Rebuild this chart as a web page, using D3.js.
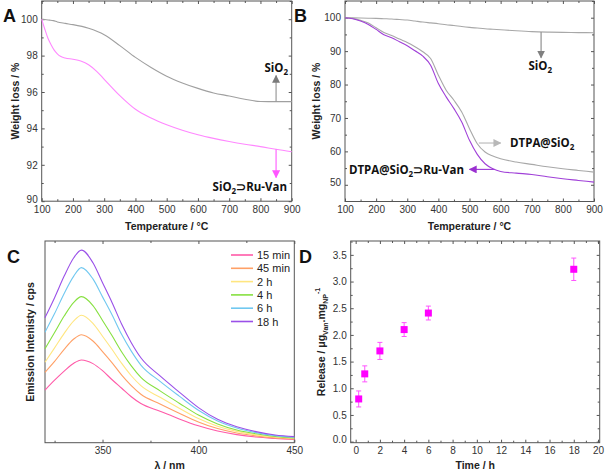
<!DOCTYPE html>
<html><head><meta charset="utf-8">
<script src="https://cdn.jsdelivr.net/npm/d3@7"></script>
<style>
body{margin:0;background:#fff;}
svg{display:block;}
</style></head>
<body>
<svg id="chart" width="606" height="472"></svg>
<script>
// ---------- DATA ----------
// Panel A (TGA)
const tempA = [100,110,125,137,150,175,200,250,300,350,400,450,500,550,600,650,700,750,800,850,900];
const tgaA_SiO2 = [100,99.98,99.95,99.92,99.85,99.77,99.7,99.5,99.15,98.55,97.9,97.35,96.87,96.5,96.2,95.95,95.78,95.6,95.48,95.47,95.47];
const tempA_Ru = [100,105,110,120,130,140,150,160,175,200,225,250,275,300,350,400,450,500,550,600,650,700,750,800,850,900];
const tgaA_RuVan = [100,99.72,99.45,98.95,98.6,98.3,98.1,97.96,97.87,97.8,97.7,97.5,97.15,96.7,95.8,95.05,94.57,94.2,93.9,93.65,93.45,93.28,93.13,93.0,92.85,92.72];
// Panel B (TGA)
const tempB = [100,125,150,175,200,225,250,275,300,325,350,375,400,425,450,475,500,525,550,575,600,650,700,750,800,850,900];
const tgaB_SiO2 = [100,99.95,99.9,99.85,99.8,99.7,99.6,99.45,99.3,99.0,98.7,98.45,98.2,97.9,97.65,97.35,97.1,96.9,96.7,96.55,96.4,96.1,95.85,95.7,95.6,95.55,95.5];
const tgaB_DTPA = [100,99.8,99.2,98.4,97.0,95.6,94.7,93.6,92.6,91.3,89.8,87.8,82.8,78.3,75.3,71.8,66.8,62.3,59.8,58.6,57.8,56.8,56.1,55.4,54.8,54.3,53.8];
const tgaB_DTPARu = [100,99.7,99.0,98.0,96.5,94.9,94.0,92.8,91.6,90.1,88.5,85.8,80.3,76.3,72.8,68.8,63.3,59.1,56.3,54.8,54.0,53.5,53.1,52.4,51.8,51.3,50.8];
// Panel C (emission spectra, arbitrary units)
const lambda = [320,325,330,335,339,345,350,355,360,365,370,380,390,400,410,420,430,440,450];
const em15min = [26.1,31.0,35.5,39.4,41.0,39.2,35.7,31.2,27.0,22.8,19.4,15.6,11.8,8.4,5.8,4.0,2.8,2.1,1.6];
const em45min = [34.9,40.3,46.3,51.4,53.5,50.4,45.2,39.6,33.5,28.3,24.0,19.2,14.6,10.3,7.0,4.8,3.4,2.4,1.9];
const em2h = [39.9,47.0,54.2,60.4,63.2,59.2,52.8,46.2,39.3,33.2,28.3,22.5,17.1,12.0,8.2,5.6,3.9,2.8,2.2];
const em4h = [46.6,54.6,62.8,69.6,72.4,68.0,60.6,53.0,45.0,38.1,32.4,25.7,19.6,13.7,9.3,6.3,4.4,3.1,2.4];
const em6h = [54.8,64.0,74.0,82.6,86.8,81.2,72.3,63.3,53.6,45.4,38.5,30.4,23.1,16.1,10.8,7.3,5.0,3.5,2.7];
const em18h = [62.0,71.9,82.6,91.7,95.5,89.2,79.3,69.4,58.7,49.6,42.1,33.1,25.1,17.4,11.6,7.9,5.5,3.8,3.0];
const emLabels = ["15 min","45 min","2 h","4 h","6 h","18 h"];
// Panel D (release)
const timeH = [0.25,0.75,2,4,6,18];
const release = [0.80,1.27,1.70,2.10,2.41,3.23];
const releaseErr = [0.15,0.15,0.16,0.13,0.13,0.21];

// ---------- DRAWING ----------
const svg = d3.select("#chart");
svg.append("rect").attr("width",606).attr("height",472).attr("fill","#fff");
const FONT = "'Liberation Sans', Arial, sans-serif";
const AFONT = "'Open Sans', 'Liberation Sans', sans-serif";

svg.append("defs").selectAll("marker")
  .data([["gA","#7a7a7a"],["pA","#ff55ff"],["gB","#808080"],["lB","#b8b8b8"],["vB","#9a30d0"]])
  .join("marker")
  .attr("id",d=>"ar_"+d[0]).attr("viewBox","0 0 10 10").attr("refX",9).attr("refY",5)
  .attr("markerWidth",8).attr("markerHeight",8).attr("markerUnits","userSpaceOnUse")
  .attr("orient","auto")
  .append("path").attr("d","M0,0 L10,5 L0,10 z").attr("fill",d=>d[1]);

function range(a,b,s){const r=[];for(let v=a;v<=b+1e-9;v+=s)r.push(+v.toFixed(4));return r;}

function panel(o){
  const g = svg.append("g");
  const x = d3.scaleLinear().domain(o.xd).range([o.l,o.r]);
  const y = d3.scaleLinear().domain(o.yd).range([o.b,o.t]);
  const addAxis=(axis,tr,vals,size,fmt)=>{
    const a = axis.tickValues(vals).tickSizeInner(-size).tickSizeOuter(0).tickPadding(4);
    if(fmt) a.tickFormat(fmt); else a.tickFormat("");
    const ag = g.append("g").attr("transform",tr).call(a);
    ag.select(".domain").remove();
    ag.selectAll("line").attr("stroke","#555");
    ag.selectAll("text").attr("fill","#333").style("font-family",FONT).style("font-size","10px");
    return ag;
  };
  // x axes
  addAxis(d3.axisBottom(x),`translate(0,${o.b})`,o.xMinor,2,null);
  addAxis(d3.axisBottom(x),`translate(0,${o.b})`,o.xMajor,3,o.xFmt||d3.format("d"))
    .selectAll("text").attr("dy","0.78em");
  addAxis(d3.axisTop(x),`translate(0,${o.t})`,o.xMinor,2,null);
  addAxis(d3.axisTop(x),`translate(0,${o.t})`,o.xMajor,3,null);
  if(o.yMajor){
    addAxis(d3.axisLeft(y),`translate(${o.l},0)`,o.yMinor,2,null);
    const yl = addAxis(d3.axisLeft(y),`translate(${o.l},0)`,o.yMajor,3,o.yFmt||d3.format("d"));
    // lift the lowest label slightly so it clears the first x label
    yl.selectAll("text").filter(d=>d===o.yMajor[0]).attr("dy","0.1em");
    addAxis(d3.axisRight(y),`translate(${o.r},0)`,o.yMinor,2,null);
    addAxis(d3.axisRight(y),`translate(${o.r},0)`,o.yMajor,3,null);
  }
  g.append("rect").attr("x",o.l).attr("y",o.t).attr("width",o.r-o.l).attr("height",o.b-o.t)
    .attr("fill","none").attr("stroke","#555").attr("stroke-width",1);
  // titles
  g.append("text").attr("x",(o.l+o.r)/2).attr("y",o.xtY).attr("text-anchor","middle")
    .style("font-family",FONT).style("font-weight","bold").style("font-size","10.5px").attr("fill","#222")
    .text(o.xt);
  const yt = g.append("text").attr("transform",`translate(${o.ytX},${o.ytC}) rotate(-90)`).attr("text-anchor","middle")
    .style("font-family",FONT).style("font-weight","bold").style("font-size","10.5px").attr("fill","#222");
  if(typeof o.yt==="function") o.yt(yt); else yt.text(o.yt);
  g.append("text").attr("x",o.pl[0]).attr("y",o.pl[1]).text(o.letter)
    .style("font-family",FONT).style("font-weight","bold").style("font-size","18px").attr("fill","#111");
  return {g,x,y};
}

function drawLine(p,xs,ys,color,w){
  const line = d3.line().x((d,i)=>p.x(xs[i])).y(d=>p.y(d)).curve(d3.curveMonotoneX);
  p.g.append("path").attr("d",line(ys)).attr("fill","none").attr("stroke",color).attr("stroke-width",w||1.1);
}
function sio2(t,pre,post,size){
  t.append("tspan").text(pre+"SiO");
  t.append("tspan").text("2").attr("dy",3).style("font-size",(size*0.7)+"px");
  t.append("tspan").text(post).attr("dy",-3);
}
function annot(x,y,pre,post,anchor){
  const t = svg.append("text").attr("x",x).attr("y",y).attr("text-anchor",anchor||"start")
    .style("font-family",AFONT).style("font-weight","bold").style("font-size","11.5px").attr("fill","#111");
  sio2(t,pre,post,11.5);
  return t;
}
function arrow(p,x1,y1,x2,y2,color,id){
  p.g.append("line").attr("x1",x1).attr("y1",y1).attr("x2",x2).attr("y2",y2)
    .attr("stroke",color).attr("stroke-width",1.2).attr("marker-end",`url(#ar_${id})`);
}

// Panel A
const pA = panel({l:41.7,r:291.7,t:1,b:201.2,xd:[100,900],yd:[90,101],
  xMajor:range(100,900,100),xMinor:range(150,850,100),
  yMajor:range(90,100,2),yMinor:range(91,101,2),
  xt:"Temperature / °C",xtY:230,yt:"Weight loss / %",ytX:19,ytC:101,letter:"A",pl:[3,22]});
drawLine(pA,tempA,tgaA_SiO2,"#a0a0a0");
drawLine(pA,tempA_Ru,tgaA_RuVan,"#ff88ff");
arrow(pA,pA.x(850),pA.y(95.47),pA.x(850),pA.y(96.9),"#9a9a9a","gA");
arrow(pA,pA.x(850),pA.y(92.85),pA.x(850),pA.y(91.3),"#ff66ff","pA");
annot(pA.x(850)+12,72,"","","end");
annot(287,191,"","⊃Ru-Van","end");

// Panel B
const pB = panel({l:345,r:594,t:1,b:201.5,xd:[100,900],yd:[45,105],
  xMajor:range(100,900,100),xMinor:range(150,850,100),
  yMajor:range(50,100,10),yMinor:range(55,105,10),
  xt:"Temperature / °C",xtY:230,yt:"Weight loss / %",ytX:320,ytC:101,letter:"B",pl:[294,22]});
drawLine(pB,tempB,tgaB_SiO2,"#a8a8a8");
drawLine(pB,tempB,tgaB_DTPA,"#a8a8a8");
drawLine(pB,tempB,tgaB_DTPARu,"#a040d8");
arrow(pB,pB.x(730),pB.y(95.7),pB.x(730),pB.y(88.0),"#909090","gB");
annot(pB.x(730)+11,70,"","","end");
arrow(pB,pB.x(530),pB.y(62.5),pB.x(600),pB.y(62.5),"#bdbdbd","lB");
annot(510,147,"DTPA@","","start");
arrow(pB,pB.x(580),pB.y(54.6),pB.x(500),pB.y(54.6),"#a040d8","vB");
annot(464,174,"DTPA@","⊃Ru-Van","end");

// Panel C
const pC = panel({l:45,r:294.3,t:241,b:442.7,xd:[320,450],yd:[0,100],
  xMajor:[350,400,450],xMinor:[325,375,425],
  xt:"λ / nm",xtY:469,yt:"Emission Intenisty / cps",ytX:34,ytC:342,letter:"C",pl:[7,263]});
const emSeries = [em15min,em45min,em2h,em4h,em6h,em18h];
const emColors = ["#ff5aa8","#ffa066","#ffe680","#86e040","#70c8f0","#9a50e8"];
emSeries.forEach((s,i)=>drawLine(pC,lambda,s,emColors[i],1.1));
const leg = pC.g.append("g");
emLabels.forEach((lab,i)=>{
  const yy = 255 + i*13.3;
  leg.append("line").attr("x1",231).attr("x2",253).attr("y1",yy).attr("y2",yy)
    .attr("stroke",emColors[i]).attr("stroke-width",1.6);
  leg.append("text").attr("x",257).attr("y",yy+4).text(lab)
    .style("font-family",FONT).style("font-size","11px").attr("fill","#222");
});

// Panel D
const pD = panel({l:350.7,r:599.7,t:241,b:442.7,xd:[-0.41,20.14],yd:[-0.02,3.76],
  xMajor:range(0,20,2),xMinor:range(1,19,2),
  yMajor:range(0,3.5,0.5),yMinor:range(0.25,3.75,0.5),yFmt:d3.format(".1f"),
  xt:"Time / h",xtY:469,ytX:325,ytC:342,letter:"D",pl:[299,263],
  yt:t=>{
    t.append("tspan").text("Release / μg");
    t.append("tspan").text("Van").attr("dy",3).style("font-size","7px");
    t.append("tspan").text(".mg").attr("dy",-3);
    t.append("tspan").text("NP").attr("dy",3).style("font-size","7px");
    t.append("tspan").text("-1").attr("dy",-8).style("font-size","7px");
  }});
const eg = pD.g.append("g");
timeH.forEach((t,i)=>{
  const cx = pD.x(t), y1 = pD.y(release[i]-releaseErr[i]), y2 = pD.y(release[i]+releaseErr[i]);
  eg.append("line").attr("x1",cx).attr("x2",cx).attr("y1",y1).attr("y2",y2).attr("stroke","#ff55ff").attr("stroke-width",1);
  [y1,y2].forEach(yy=>eg.append("line").attr("x1",cx-2.5).attr("x2",cx+2.5).attr("y1",yy).attr("y2",yy).attr("stroke","#ff55ff").attr("stroke-width",1));
});
eg.selectAll("rect.m").data(timeH).join("rect").attr("class","m")
  .attr("x",d=>pD.x(d)-3.5).attr("y",(d,i)=>pD.y(release[i])-3.5)
  .attr("width",7).attr("height",7).attr("fill","#ff00ff");
</script>
</body></html>
